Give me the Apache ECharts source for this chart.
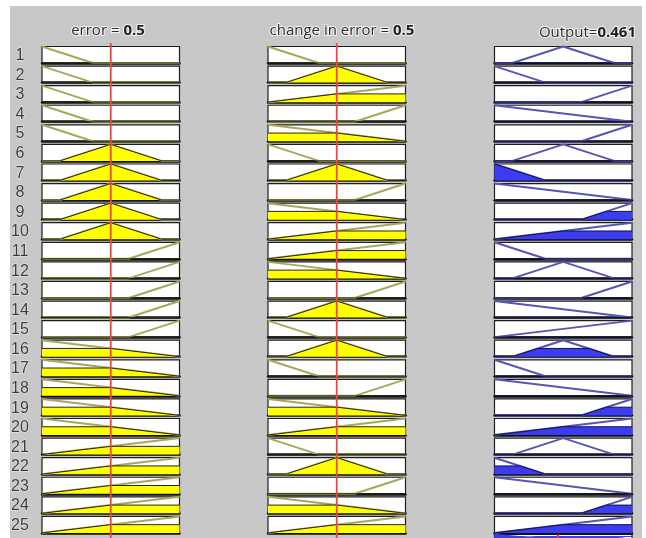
<!DOCTYPE html>
<html><head><meta charset="utf-8">
<script src="https://cdn.jsdelivr.net/npm/echarts@6/dist/echarts.min.js"></script>
<style>html,body{margin:0;padding:0;background:#fff}#c{width:646px;height:538px}</style>
</head><body><div id="c"></div>
<script>
// ---- membership function shapes: [x, degree] ----
const mfLow  = [[0,1],[0.37,0],[1,0]];
const mfMid  = [[0,0],[0.13,0],[0.5,1],[0.87,0],[1,0]];
const mfHigh = [[0,0],[0.63,0],[1,1]];
const mfDown = [[0,1],[1,0]];
const mfUp   = [[0,0],[1,1]];

// ---- rule table (25 rules) ----
const ruleNumbers = [1,2,3,4,5,6,7,8,9,10,11,12,13,14,15,16,17,18,19,20,21,22,23,24,25];
const errorRule  = ['L','L','L','L','L','M','M','M','M','M','H','H','H','H','H','D','D','D','D','D','U','U','U','U','U'];
const dErrorRule = ['L','M','U','H','D','L','M','H','D','U','U','D','H','M','L','M','L','H','D','U','L','M','H','D','U'];
const outputRule = ['M','L','H','D','H','M','L','D','H','U','L','M','H','D','U','M','L','D','H','U','M','L','D','H','U'];

// ---- inputs / output ----
const errorValue = 0.5;
const dErrorValue = 0.5;
const outputValue = 0.461;

const titles = ['error', 'change in error', 'Output'];

const shapes = {L: mfLow, M: mfMid, H: mfHigh, D: mfDown, U: mfUp};

function evalMF(pts, x) {
  for (let i = 0; i < pts.length - 1; i++) {
    const [x0, y0] = pts[i], [x1, y1] = pts[i + 1];
    if (x >= x0 && x <= x1) return x1 === x0 ? Math.max(y0, y1) : y0 + (y1 - y0) * (x - x0) / (x1 - x0);
  }
  return 0;
}
function clipMF(pts, mu) {
  const out = [];
  for (let i = 0; i < pts.length; i++) {
    const [x, y] = pts[i];
    if (i > 0) {
      const [px, py] = pts[i - 1];
      if ((py - mu) * (y - mu) < 0) {
        const t = (mu - py) / (y - py);
        out.push([px + t * (x - px), mu]);
      }
    }
    out.push([x, Math.min(y, mu)]);
  }
  return out;
}

const W = 646, H = 538;
const colLeft = [42, 268, 494.5];
const colWidth = 137.5;
const rowTop0 = 46.5, rowStep = 19.58, boxH = 16.5;

const grids = [], xAxes = [], yAxes = [], series = [], graphics = [];
graphics.push({type: 'rect', shape: {x: 10, y: 6, width: 632, height: 532}, style: {fill: '#c8c8c8'}, z: -10, silent: true});

function addGrid(g) { grids.push(g); return grids.length - 1; }
function addAxes(g, showBottom) {
  xAxes.push({gridIndex: g, type: 'value', min: 0, max: 1,
    axisLine: {show: showBottom, onZero: false, lineStyle: {color: '#111', width: 2.5}},
    axisTick: {show: false}, axisLabel: {show: false}, splitLine: {show: false}});
  yAxes.push({gridIndex: g, type: 'value', min: 0, max: 1, show: false});
}

const inputCols = [
  {rule: errorRule, value: errorValue},
  {rule: dErrorRule, value: dErrorValue}
];
const firedOutputs = [];

for (let r = 0; r < ruleNumbers.length; r++) {
  const top = rowTop0 + r * rowStep;
  const degs = inputCols.map(c => evalMF(shapes[c.rule[r]], c.value));
  const strength = Math.min(...degs);
  const cols = [
    {shape: shapes[errorRule[r]], mu: degs[0], line: '#a8a85a', fill: '#ffff00', edge: '#262610'},
    {shape: shapes[dErrorRule[r]], mu: degs[1], line: '#a8a85a', fill: '#ffff00', edge: '#262610'},
    {shape: shapes[outputRule[r]], mu: strength, line: '#5656b6', fill: '#3c3cf2', edge: '#10104a'}
  ];
  if (strength > 0) firedOutputs.push(clipMF(shapes[outputRule[r]], strength));
  cols.forEach((c, ci) => {
    const g = addGrid({left: colLeft[ci], top: top, width: colWidth, height: boxH, show: true,
      backgroundColor: '#ffffff', borderColor: '#1e1e1e', borderWidth: 1.2});
    addAxes(g, true);
    series.push({type: 'line', xAxisIndex: g, yAxisIndex: g, data: c.shape, symbol: 'none', silent: true, clip: false,
      lineStyle: {color: c.line, width: 2}, z: 2});
    series.push({type: 'line', xAxisIndex: g, yAxisIndex: g, data: clipMF(c.shape, c.mu), symbol: 'none', silent: true, clip: false,
      lineStyle: {color: c.edge, width: 1}, areaStyle: {color: c.fill, opacity: 1}, z: 3});
  });
  graphics.push({type: 'text', x: 20, y: top + boxH / 2 + 1, silent: true,
    style: {text: String(ruleNumbers[r]), align: 'center', verticalAlign: 'middle', fill: '#3a3a3a',
      font: '16px "Liberation Sans Narrow", "Liberation Sans", sans-serif', stroke: 'rgba(255,255,255,0.7)', lineWidth: 1}});
}

// aggregated output plot (only its top edge is inside the picture)
{
  const g = addGrid({left: colLeft[2], top: 534.5, width: colWidth, height: 16, show: true,
    backgroundColor: '#ffffff', borderColor: '#1e1e1e', borderWidth: 1.2});
  addAxes(g, false);
  firedOutputs.forEach(d => series.push({type: 'line', xAxisIndex: g, yAxisIndex: g, data: d, symbol: 'none', silent: true,
    lineStyle: {color: '#3c3cf2', width: 1}, areaStyle: {color: '#3c3cf2', opacity: 1}, z: 3}));
  series.push({type: 'line', xAxisIndex: g, yAxisIndex: g, data: [[outputValue, 0], [outputValue, 1]], symbol: 'none', silent: true,
    lineStyle: {color: '#ee3333', width: 2.5}, z: 5});
}

// red input markers spanning each input column
[errorValue, dErrorValue].forEach((v, ci) => {
  const g = addGrid({left: colLeft[ci], top: 43, width: colWidth, height: H - 43, show: false});
  xAxes.push({gridIndex: g, type: 'value', min: 0, max: 1, show: false});
  yAxes.push({gridIndex: g, type: 'value', min: 0, max: 1, show: false});
  series.push({type: 'line', xAxisIndex: g, yAxisIndex: g, data: [[v, 0], [v, 1]], symbol: 'none', silent: true,
    lineStyle: {color: '#ee4444', width: 1.8}, z: 20});
});

// titles
const titleFont = '15px "Open Sans", "Noto Sans", sans-serif';
const rich = {
  n: {fill: '#2c2c2c', font: titleFont, stroke: 'rgba(255,255,255,0.8)', lineWidth: 2},
  b: {fill: '#1e1e1e', font: 'bold ' + titleFont, stroke: 'rgba(255,255,255,0.8)', lineWidth: 2}
};
graphics.push({type: 'text', x: 108, y: 31, silent: true, style: {text: '{n|' + titles[0] + ' = }{b|' + errorValue + '}', rich: rich, align: 'center', verticalAlign: 'middle'}});
graphics.push({type: 'text', x: 342, y: 31, silent: true, style: {text: '{n|' + titles[1] + ' = }{b|' + dErrorValue + '}', rich: rich, align: 'center', verticalAlign: 'middle'}});
graphics.push({type: 'text', x: 636, y: 33, silent: true, style: {text: '{n|' + titles[2] + '=}{b|' + outputValue + '}', rich: rich, align: 'right', verticalAlign: 'middle'}});

const chart = echarts.init(document.getElementById('c'), null, {renderer: 'canvas'});
chart.setOption({
  animation: false,
  backgroundColor: '#ffffff',
  grid: grids, xAxis: xAxes, yAxis: yAxes, series: series, graphic: graphics
});
</script></body></html>
